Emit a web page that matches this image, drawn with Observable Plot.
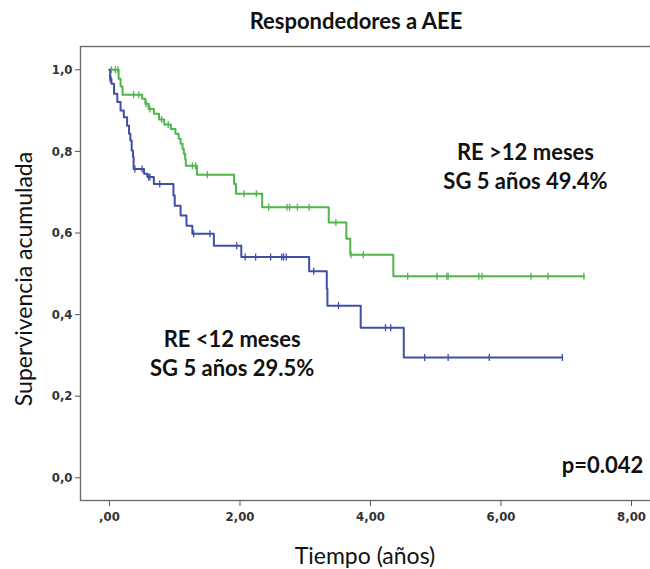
<!DOCTYPE html>
<html><head><meta charset="utf-8">
<script src="https://cdn.jsdelivr.net/npm/d3@7"></script>
<script src="https://cdn.jsdelivr.net/npm/@observablehq/plot@0.6"></script>
<style>body{margin:0;background:#fff} svg{display:block}</style>
</head><body><div id="chart"></div>
<script>
// ---- Data ----
const groupNames = ["RE >12 meses", "RE <12 meses"];
// RE >12 meses (green)
const greenEventTimes = [0.14, 0.17, 0.20, 0.50, 0.55, 0.60, 0.68, 0.76, 0.84, 0.94, 1.01, 1.06, 1.09, 1.12, 1.14, 1.16, 1.17, 1.34, 1.91, 1.94, 2.34, 3.36, 3.63, 3.69, 4.35];
const greenEventSurv  = [0.978, 0.959, 0.939, 0.929, 0.917, 0.904, 0.892, 0.878, 0.866, 0.855, 0.843, 0.831, 0.819, 0.806, 0.794, 0.780, 0.765, 0.743, 0.720, 0.696, 0.663, 0.626, 0.586, 0.547, 0.494];
const greenCensorTimes = [0.03, 0.09, 0.13, 0.37, 0.45, 0.56, 0.62, 0.80, 0.90, 1.27, 1.32, 1.50, 2.06, 2.25, 2.44, 2.72, 2.76, 2.88, 3.06, 3.47, 3.70, 3.89, 4.57, 5.02, 5.17, 5.19, 5.66, 5.71, 6.46, 6.72, 7.27];
const greenLastTime = 7.27;
// RE <12 meses (blue)
const blueEventTimes = [0.01, 0.03, 0.07, 0.12, 0.17, 0.22, 0.27, 0.30, 0.32, 0.34, 0.36, 0.37, 0.53, 0.58, 0.68, 0.98, 1.00, 1.09, 1.18, 1.27, 1.60, 2.02, 3.06, 3.33, 3.34, 3.85, 4.51];
const blueEventSurv  = [0.978, 0.966, 0.941, 0.921, 0.900, 0.884, 0.863, 0.843, 0.827, 0.802, 0.786, 0.757, 0.745, 0.737, 0.720, 0.692, 0.667, 0.643, 0.618, 0.598, 0.569, 0.541, 0.506, 0.463, 0.422, 0.368, 0.295];
const blueCensorTimes = [0.01, 0.02, 0.39, 0.50, 0.60, 0.62, 0.77, 1.29, 1.54, 1.95, 2.08, 2.24, 2.47, 2.64, 2.67, 2.71, 3.13, 3.51, 4.23, 4.31, 4.83, 5.19, 5.82, 6.94];
const blueLastTime = 6.94;
// Axis ticks
const xTicks = [0, 2, 4, 6, 8];
const yTicks = [0, 0.2, 0.4, 0.6, 0.8, 1.0];
// Annotation texts
const annoLines = ["RE >12 meses", "SG 5 años 49.4%", "RE <12 meses", "SG 5 años 29.5%", "p=0.042"];

// ---- Build tables ----
function stepRows(group, times, surv, last) {
  const rows = [{group, t: 0, s: 1}];
  times.forEach((t, i) => rows.push({group, t, s: surv[i]}));
  rows.push({group, t: last, s: surv[surv.length - 1]});
  return rows;
}
function survAt(times, surv, t) {
  let s = 1;
  for (let i = 0; i < times.length; i++) if (times[i] <= t) s = surv[i];
  return s;
}
const curves = [
  ...stepRows(groupNames[0], greenEventTimes, greenEventSurv, greenLastTime),
  ...stepRows(groupNames[1], blueEventTimes, blueEventSurv, blueLastTime)
];
const censors = [
  ...greenCensorTimes.map(t => ({group: groupNames[0], t, s: survAt(greenEventTimes, greenEventSurv, t)})),
  ...blueCensorTimes.map(t => ({group: groupNames[1], t, s: survAt(blueEventTimes, blueEventSurv, t)}))
];
const colors = {[groupNames[0]]: "#4fb548", [groupNames[1]]: "#3e4fa6"};

const tickSymbol = {
  draw(ctx, size) {
    const h = Math.sqrt(size / Math.PI);
    ctx.moveTo(0, -h); ctx.lineTo(0, h);
  }
};

const fontMain = "Lato, 'Open Sans', sans-serif";
const fontTick = "'Liberation Sans Narrow', 'DejaVu Sans Condensed', Arial, sans-serif";

const centerAnnos = [
  {text: annoLines[0], t: 6.375, s: 0.797},
  {text: annoLines[1], t: 6.375, s: 0.724},
  {text: annoLines[2], t: 1.88, s: 0.337},
  {text: annoLines[3], t: 1.88, s: 0.268}
];
const endAnnos = [{text: annoLines[4], t: 8.18, s: 0.028}];

const W = 650, H = 569;
const chart = Plot.plot({
  width: W, height: H,
  marginLeft: 80, marginRight: -3, marginTop: 46, marginBottom: 69,
  x: {domain: [-0.444, 8.337], axis: null},
  y: {domain: [-0.0556, 1.0571], axis: null},
  style: {background: "#fff"},
  marks: [
    Plot.frame({stroke: "#6e6e6e", strokeWidth: 1.4}),
    Plot.axisY({ticks: yTicks, tickSize: 5, tickPadding: 3, tickFormat: d => d.toFixed(1).replace(".", ","),
      label: null, fontSize: 13, fontWeight: "bold", fontFamily: fontTick, stroke: "#555", fill: "#333"}),
    Plot.axisX({ticks: xTicks, tickSize: 6, tickPadding: 5, anchor: "bottom",
      tickFormat: d => d === 0 ? ",00" : d.toFixed(2).replace(".", ","),
      label: null, fontSize: 13, fontWeight: "bold", fontFamily: fontTick, stroke: "#555", fill: "#333"}),
    Plot.line(curves, {x: "t", y: "s", z: "group", stroke: d => colors[d.group], curve: "step-after", strokeWidth: 2}),
    Plot.dot(censors, {x: "t", y: "s", symbol: tickSymbol, r: 3.5, stroke: d => colors[d.group], fill: "none", strokeWidth: 1.3}),
    Plot.text(centerAnnos, {x: "t", y: "s", text: "text", textAnchor: "middle", fontSize: 22, fontWeight: "bold",
      fontFamily: fontMain, fill: "#111"}),
    Plot.text(endAnnos, {x: "t", y: "s", text: "text", textAnchor: "end", fontSize: 22, fontWeight: "bold",
      fontFamily: fontMain, fill: "#111"})
  ]
});

const svg = d3.select(chart);
svg.append("text").attr("x", 356).attr("y", 29).attr("text-anchor", "middle")
  .attr("font-family", fontMain).attr("font-size", 22).attr("font-weight", "bold").attr("fill", "#111")
  .text("Respondedores a AEE");
svg.append("text").attr("transform", "translate(32,279) rotate(-90)").attr("text-anchor", "middle")
  .attr("font-family", fontMain).attr("font-size", 23).attr("fill", "#111")
  .text("Supervivencia acumulada");
svg.append("text").attr("x", 365).attr("y", 564).attr("text-anchor", "middle")
  .attr("font-family", fontMain).attr("font-size", 23).attr("fill", "#111")
  .text("Tiempo (años)");

document.getElementById("chart").appendChild(chart);
</script></body></html>
